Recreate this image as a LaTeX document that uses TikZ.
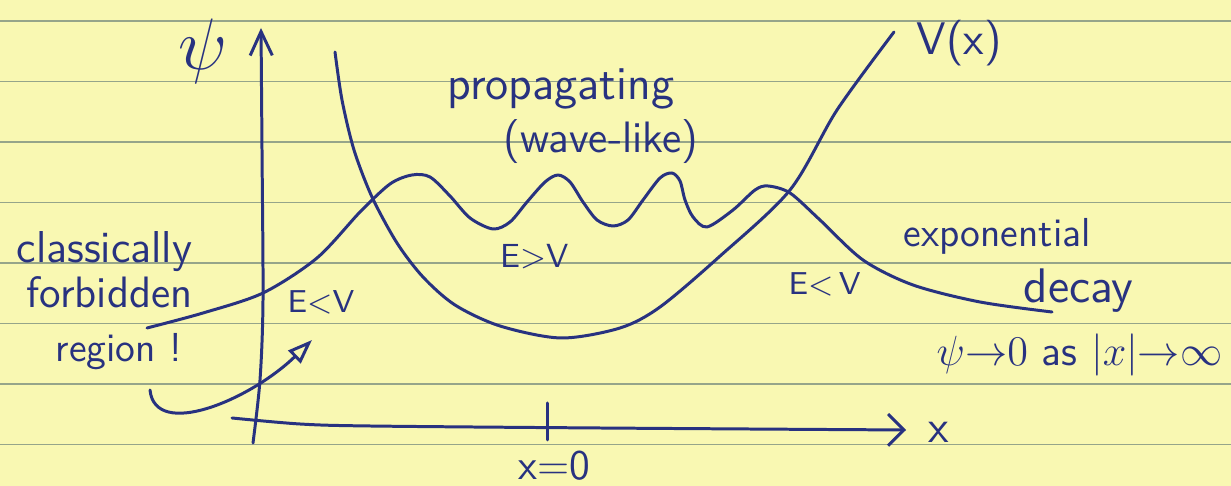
\documentclass[tikz,border=0pt]{standalone}
\usetikzlibrary{arrows.meta}
\definecolor{paper}{RGB}{249,248,178}
\definecolor{ink}{RGB}{40,50,128}
\definecolor{rulecol}{RGB}{150,165,138}

\begin{document}
\begin{tikzpicture}[x=0.01cm,y=-0.01cm,
   inkline/.style={ink,line width=0.85pt,line cap=round,line join=round},
   lbl/.style={anchor=base west,inner sep=0pt,text=ink,font=\sffamily\fontsize{13}{15}\selectfont}]
   % paper and its rules
   \fill[paper] (0,0) rectangle (1231,486);
   \useasboundingbox (0,0) rectangle (1231,486);
   \foreach \k in {0,...,7}
      \draw[rulecol,line width=0.5pt] (0,{21+60.5*\k}) -- (1231,{21+60.5*\k});

   % axes
   \draw[inkline,-{Straight Barb[length=6.8pt,width=6.3pt]}] plot[smooth] coordinates {(253,443) (260,380) (263,300) (262,150) (261,28)};
   \draw[inkline,-{Straight Barb[length=4.5pt,width=9pt]}] plot[smooth] coordinates {(232,418) (300,424) (370,426) (600,428) (906,430)};
   \draw[inkline] (547,403) -- (547,440);

   % potential V(x)
   \draw[inkline] plot[smooth] coordinates {(335,52) (342,100) (354,150) (372,197) (397,243) (423,277) (455,305) (500,326) (561,338) (620,328) (660,307) (719,257) (790,190) (837,110) (894,32)};

   % wave function
   \draw[inkline] plot[smooth] coordinates {(147,328) (203,313) (263,293) (317,258) (360,212) (390,184) (412,175) (430,177) (450,196) (470,218) (493,229) (510,222) (527,202) (545,182) (558,175) (570,182) (583,202) (597,220) (613,226) (628,220) (643,200) (660,178) (672,173) (680,181) (685,200) (693,217) (707,227) (733,210) (755,190) (768,186) (790,193) (820,220) (863,260) (913,285) (980,302) (1052,312)};

   % labels
   \node[lbl,font=\fontsize{20}{24}\selectfont] (psi) at (178,70) {$\psi$};
   \node[lbl] (vx) at (916,55) {V(x)};
   \node[lbl,font=\sffamily\fontsize{13.4}{15}\selectfont] (prop) at (447,100) {propagating};
   \node[lbl,font=\sffamily\fontsize{12.5}{15}\selectfont] (wave) at (503,153) {(wave-like)};
   \node[lbl,font=\sffamily\fontsize{12.7}{15}\selectfont] (class) at (16,263) {classically};
   \node[lbl,font=\sffamily\fontsize{12.5}{15}\selectfont] (forb) at (26,308) {forbidden};
   \node[lbl,font=\sffamily\fontsize{11.5}{14}\selectfont] (region) at (55,362) {region !};
   \node[lbl,font=\sffamily\fontsize{9}{11}\selectfont] (lessL) at (287,313) {E<V};
   \node[lbl,font=\sffamily\fontsize{9.5}{11}\selectfont] (more) at (500,268) {E>V};
   \node[lbl,font=\sffamily\fontsize{9}{11}\selectfont] (lessR) at (788,295) {E<\,V};
   \node[lbl,font=\sffamily\fontsize{11.5}{13}\selectfont] (expo) at (903,247) {exponential};
   \node[lbl,font=\sffamily\fontsize{13.8}{15}\selectfont] (decay) at (1023,303) {decay};
   \node[lbl,font=\sffamily\fontsize{12}{14}\selectfont] (limit) at (936,366) {$\psi{\to}0$ as $|x|{\to}\infty$};
   \node[lbl] (xlbl) at (928,443) {x};
   \node[lbl,font=\sffamily\fontsize{12}{14}\selectfont] (xzero) at (518,480) {x=0};

   % arrow from the note to the left region
   \coordinate (arrS) at (150,390);
   \coordinate (arrE) at (312,340);
   \draw[inkline,-{Triangle[open,length=7pt,width=5pt]}] (arrS) .. controls (155,440) and (250,400) .. (arrE);
\end{tikzpicture}
\end{document}
